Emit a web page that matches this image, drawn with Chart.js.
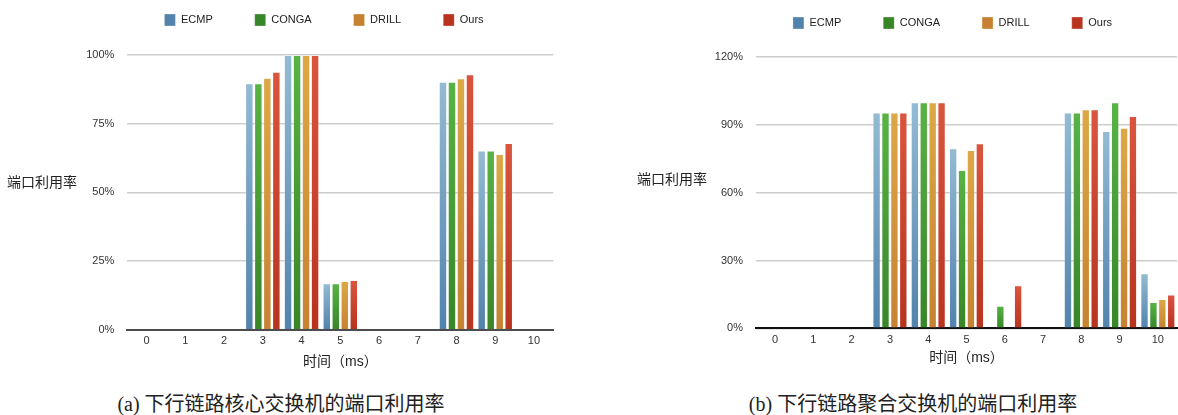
<!DOCTYPE html>
<html lang="zh">
<head>
<meta charset="UTF-8">
<title>端口利用率</title>
<script src="https://cdn.jsdelivr.net/npm/chart.js"></script>
<style>
  body { margin: 0; background: #fff; font-family: "Liberation Sans", "Noto Sans CJK SC", sans-serif; }
  .wrap { position: relative; width: 1178px; height: 415px; overflow: hidden; }
  canvas { position: absolute; top: 0; }
  #coreChart { left: 0; }
  #aggChart { left: 589px; }
  .ylab { position: absolute; font-size: 14px; line-height: 14px; color: #222; white-space: nowrap; }
  .caption {
    position: absolute; top: 393px; width: 400px; text-align: center;
    font-family: "Liberation Serif", "Noto Sans CJK SC", serif;
    font-size: 20px; line-height: 22px; color: #222;
  }
</style>
</head>
<body>
<div class="wrap">
  <canvas id="coreChart" width="589" height="380"></canvas>
  <canvas id="aggChart" width="589" height="380"></canvas>
  <div class="ylab" style="left:7px;top:175px">端口利用率</div>
  <div class="ylab" style="left:637px;top:172px">端口利用率</div>
  <div class="caption" style="left:81px">(a) 下行链路核心交换机的端口利用率</div>
  <div class="caption" style="left:713px">(b) 下行链路聚合交换机的端口利用率</div>
</div>

<script>
const times = ['0', '1', '2', '3', '4', '5', '6', '7', '8', '9', '10'];
const seriesNames = ['ECMP', 'CONGA', 'DRILL', 'Ours'];

// core switch, downlink port utilisation (%)
const coreEcmp  = [0, 0, 0, 89.7, 100, 16.9, 0, 0, 90.3, 65.2, 0];
const coreConga = [0, 0, 0, 89.7, 100, 16.9, 0, 0, 90.3, 65.2, 0];
const coreDrill = [0, 0, 0, 91.7, 100, 17.7, 0, 0, 91.5, 64.0, 0];
const coreOurs  = [0, 0, 0, 93.9, 100, 18.1, 0, 0, 93.0, 68.0, 0];
const coreTicks = [0, 25, 50, 75, 100];

// aggregation switch, downlink port utilisation (%)
const aggEcmp  = [0, 0, 0, 95.4, 100, 79.6, 0, 0, 95.4, 87.3, 24.3];
const aggConga = [0, 0, 0, 95.4, 100, 70.0, 10.0, 0, 95.4, 100, 11.6];
const aggDrill = [0, 0, 0, 95.4, 100, 78.9, 0, 0, 96.9, 88.7, 13.0];
const aggOurs  = [0, 0, 0, 95.4, 100, 81.8, 19.0, 0, 96.9, 93.9, 15.0];
const aggTicks = [0, 30, 60, 90, 120];

Chart.defaults.font.family = '"Liberation Sans", "Noto Sans CJK SC", sans-serif';

// light top, mid (legend), dark bottom
const shades = [
  ['#93bbd3', '#6697bf', '#5283ad'],
  ['#58b346', '#459d35', '#378628'],
  ['#dda846', '#d2933b', '#c68231'],
  ['#da553e', '#cc442e', '#b9341f']
];

function barFill(i) {
  return (c) => {
    const [hi, mid, lo] = shades[i];
    if (c.type !== 'data' || !c.chart.chartArea) return mid;
    const y = c.chart.scales.y;
    const top = y.getPixelForValue(c.raw);
    const base = y.getPixelForValue(0);
    if (base - top < 1) return lo;
    const g = c.chart.ctx.createLinearGradient(0, top, 0, base);
    g.addColorStop(0, hi);
    g.addColorStop(1, lo);
    return g;
  };
}

// legend row sits well above the plot and off-centre, so place it after layout
const legendRow = {
  id: 'legendRow',
  afterLayout(chart, args, opts) {
    const lg = chart.legend;
    const h = lg.height, w = lg.width;
    lg.top = opts.y - lg.options.labels.padding;
    lg.bottom = lg.top + h;
    lg.left = opts.cx - w / 2;
    lg.right = lg.left + w;
  }
};

function drawUtil(id, series, ticks, box) {
  return new Chart(document.getElementById(id), {
    type: 'bar',
    data: {
      labels: times,
      datasets: series.map((vals, i) => ({
        label: seriesNames[i],
        data: vals,
        backgroundColor: barFill(i),
        borderColor: 'rgba(255,255,255,0.3)',
        borderWidth: 1,
        categoryPercentage: 0.93,
        barPercentage: 0.94
      }))
    },
    options: {
      responsive: false,
      animation: false,
      events: [],
      layout: { padding: { left: box.padLeft, right: box.padRight, top: -20, bottom: box.padBottom } },
      plugins: {
        legend: {
          position: 'top',
          labels: { boxWidth: 11, boxHeight: 12, padding: 42, color: '#222', font: { size: 11 } }
        },
        tooltip: { enabled: false },
        legendRow: { y: box.legendY, cx: box.legendX }
      },
      scales: {
        x: {
          grid: { display: false, drawTicks: false },
          border: { display: true, color: box.axisColor, width: 2 },
          ticks: { color: '#333', font: { size: 11 }, padding: 5 },
          title: { display: true, text: '时间（ms）', color: '#222', font: { size: 14 }, padding: 0 },
          afterFit: s => { s.height = box.xHeight; }
        },
        y: {
          min: ticks[0],
          max: ticks[ticks.length - 1],
          ticks: {
            stepSize: ticks[1] - ticks[0],
            color: '#333',
            font: { size: 11 },
            padding: 13,
            callback: v => v + '%'
          },
          grid: { color: '#cdcdcd', lineWidth: 1.5, drawTicks: false },
          border: { display: false },
          afterFit: s => { s.width = box.yWidth; s.paddingTop = box.plotTop; }
        }
      }
    },
    plugins: [legendRow]
  });
}

drawUtil('coreChart', [coreEcmp, coreConga, coreDrill, coreOurs], coreTicks, {
  padLeft: 67.3, padRight: 35.7, padBottom: 9.3, yWidth: 60,
  plotTop: 55, xHeight: 41, legendY: 14, legendX: 324, axisColor: '#4d4d4d'
});

drawUtil('aggChart', [aggEcmp, aggConga, aggDrill, aggOurs], aggTicks, {
  padLeft: 107, padRight: 1, padBottom: 13.2, yWidth: 60,
  plotTop: 57, xHeight: 38.5, legendY: 17, legendX: 363.5, axisColor: '#111'
});
</script>
</body>
</html>
